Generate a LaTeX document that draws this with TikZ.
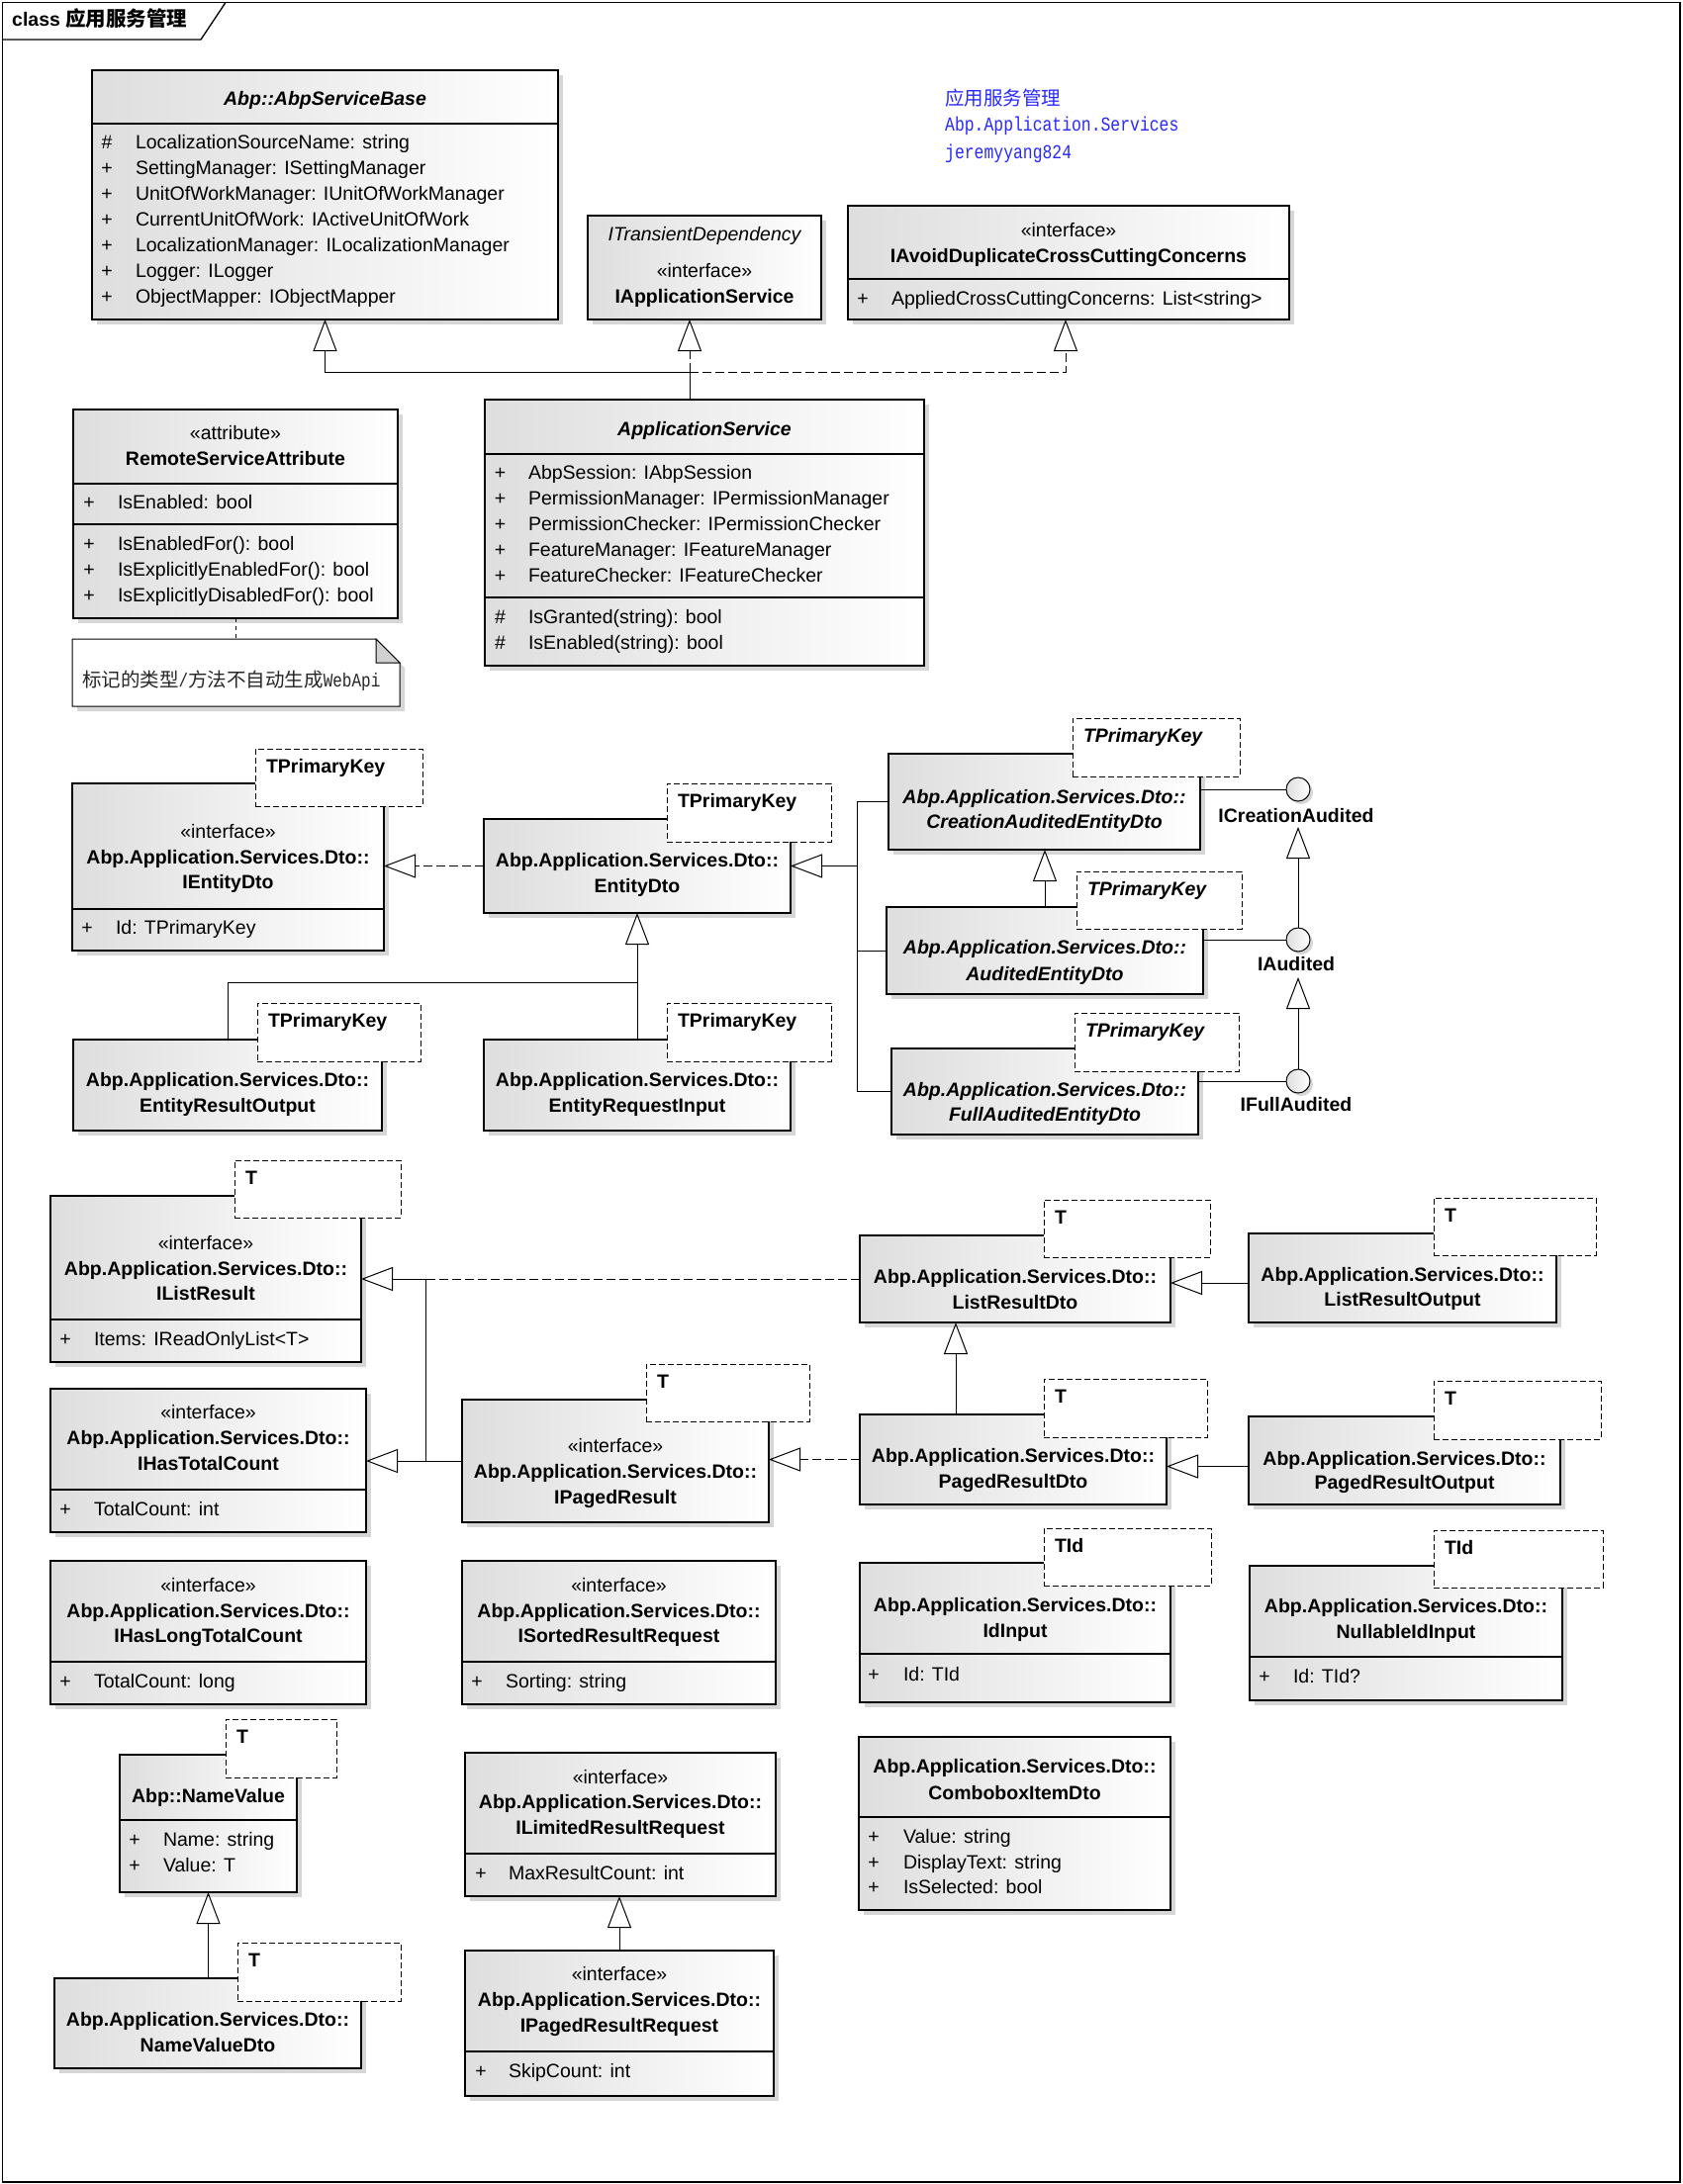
\documentclass[tikz,border=0pt]{standalone}
\usepackage{fontspec}
\setmainfont{Liberation Sans}
\newfontfamily\cjk{Noto Sans CJK SC}
\newfontfamily\nmono[FakeStretch=0.82]{Liberation Mono}
\usetikzlibrary{arrows.meta,shadows}
\definecolor{bluetxt}{RGB}{40,40,255}
\newcommand\dtons{Abp.Application.Services.Dto::}
\newcommand\umlbox[5]{\node[cls,minimum width=#4pt,minimum height=#5pt,anchor=north west] (#1) at (#2,#3) {};}
\newcommand\umltmpl[7]{\node[tmpl,minimum width=#4pt,minimum height=#5pt,anchor=north west] (#1) at (#2,#3) {};\node[#6,anchor=base west] (#1t) at ([shift={(11,24)}]#1.north west) {#7};}
\newcommand\umlsep[2]{\draw[line width=1.1pt] (#1.west |- 0,#2) -- (#1.east |- 0,#2);}
\newcommand\umltxt[5]{\node[#2,anchor=base] (#1) at (#3.north |- 0,#4) {#5};}
\newcommand\umlattr[6]{\node[txt,anchor=base] (#1s) at (#2,#4) {#5};\node[txt,anchor=base west] (#1t) at (#3,#4) {#6};}
\begin{document}
\begin{tikzpicture}[x=1pt,y=-1pt,
 cls/.style={draw=black,line width=1.1pt,left color=black!13,right color=white,inner sep=0pt,outer sep=0pt,drop shadow={shadow xshift=5pt,shadow yshift=-5pt,fill=black!16,opacity=1}},
 tmpl/.style={draw=black,line width=1pt,dash pattern=on 6pt off 3pt,fill=white,inner sep=0pt,outer sep=0pt},
 txt/.style={font=\fontsize{19.5}{23}\selectfont,inner sep=0pt,outer sep=0pt},
 bt/.style={txt,font=\fontsize{19.5}{23}\selectfont\bfseries},
 it/.style={txt,font=\fontsize{19.5}{23}\selectfont\itshape},
 bit/.style={txt,font=\fontsize{19.5}{23}\selectfont\bfseries\itshape},
 gen/.style={line width=1pt,-{Triangle[open,length=32pt,width=24pt]}},
 real/.style={gen,dash pattern=on 9pt off 4pt},
 dline/.style={line width=1pt,dash pattern=on 9pt off 4pt},
 lolli/.style={circle,minimum size=24pt,inner sep=0pt,outer sep=0pt,draw=black,line width=1pt,left color=black!13,right color=white,drop shadow={shadow xshift=3pt,shadow yshift=-3pt,fill=black!16,opacity=1}}
]
\useasboundingbox (0,0) rectangle (1700,2208);
\fill[white] (0,0) rectangle (1700,2208);
% frame
\draw[line width=1.3pt] (2.5,2.5) rectangle (1698,2206);
\draw[line width=1.3pt] (2.5,40) -- (203,40) -- (228,2.5);
\node[anchor=base west,inner sep=0pt] (ftitle) at (12,27) {\fontsize{19.5}{23}\selectfont\bfseries class {\cjk\fontsize{20.5}{23}\selectfont 应用服务管理}};
% blue notes
\node[anchor=base west,inner sep=0pt,text=bluetxt] (blue1) at (955,106) {\fontsize{19.5}{23}\selectfont\cjk 应用服务管理};
\node[anchor=base west,inner sep=0pt,text=bluetxt] (blue2) at (955,132) {\fontsize{20}{23}\selectfont\nmono Abp.Application.Services};
\node[anchor=base west,inner sep=0pt,text=bluetxt] (blue3) at (955,160) {\fontsize{20}{23}\selectfont\nmono jeremyyang824};

% ---------- AbpServiceBase
\umlbox{ASB}{93}{71}{471}{252}
\umlsep{ASB}{125}
\umltxt{ASBn}{bit}{ASB}{106}{Abp::AbpServiceBase}
\umlattr{ASB1}{108}{137}{150}{\#}{LocalizationSourceName: string}
\umlattr{ASB2}{108}{137}{176}{+}{SettingManager: ISettingManager}
\umlattr{ASB3}{108}{137}{202}{+}{UnitOfWorkManager: IUnitOfWorkManager}
\umlattr{ASB4}{108}{137}{228}{+}{CurrentUnitOfWork: IActiveUnitOfWork}
\umlattr{ASB5}{108}{137}{254}{+}{LocalizationManager: ILocalizationManager}
\umlattr{ASB6}{108}{137}{280}{+}{Logger: ILogger}
\umlattr{ASB7}{108}{137}{306}{+}{ObjectMapper: IObjectMapper}

% ---------- IApplicationService
\umlbox{IAS}{594}{218}{236}{105}
\umltxt{IASp}{it}{IAS}{243}{ITransientDependency}
\umltxt{IASs}{txt}{IAS}{280}{«interface»}
\umltxt{IASn}{bt}{IAS}{306}{IApplicationService}

% ---------- IAvoidDuplicateCrossCuttingConcerns
\umlbox{IAD}{857}{208}{446}{115}
\umlsep{IAD}{282}
\umltxt{IADs}{txt}{IAD}{239}{«interface»}
\umltxt{IADn}{bt}{IAD}{265}{IAvoidDuplicateCrossCuttingConcerns}
\umlattr{IAD1}{872}{901}{308}{+}{AppliedCrossCuttingConcerns: List<string>}

% ---------- RemoteServiceAttribute
\umlbox{RSA}{74}{414}{328}{211}
\umlsep{RSA}{489}
\umlsep{RSA}{530}
\umltxt{RSAs}{txt}{RSA}{444}{«attribute»}
\umltxt{RSAn}{bt}{RSA}{470}{RemoteServiceAttribute}
\umlattr{RSA1}{90}{119}{514}{+}{IsEnabled: bool}
\umlattr{RSA2}{90}{119}{556}{+}{IsEnabledFor(): bool}
\umlattr{RSA3}{90}{119}{582}{+}{IsExplicitlyEnabledFor(): bool}
\umlattr{RSA4}{90}{119}{608}{+}{IsExplicitlyDisabledFor(): bool}

% ---------- note
\node[inner sep=0pt,outer sep=0pt,minimum width=331pt,minimum height=68pt,anchor=north west] (note) at (73,646) {};
\fill[black!16] ([shift={(5,5)}]note.north west) -- ([shift={(-19,5)}]note.north east) -- ([shift={(5,29)}]note.north east) -- ([shift={(5,5)}]note.south east) -- ([shift={(5,5)}]note.south west) -- cycle;
\draw[line width=1pt,fill=white] (note.north west) -- ([shift={(-24,0)}]note.north east) -- ([shift={(0,24)}]note.north east) -- (note.south east) -- (note.south west) -- cycle;
\draw[line width=1pt,fill=black!18] ([shift={(-24,0)}]note.north east) -- ([shift={(-24,24)}]note.north east) -- ([shift={(0,24)}]note.north east) -- cycle;
\node[anchor=base west,inner sep=0pt,text=black!85] (notet) at (83,694) {\fontsize{19.5}{23}\selectfont\cjk 标记的类型{\nmono/}方法不自动生成{\nmono WebApi}};
\draw[line width=1pt,dash pattern=on 4pt off 4pt] (RSA.south) -- (RSA.south |- note.north);

% ---------- ApplicationService
\umlbox{AS}{490}{404}{444}{269}
\umlsep{AS}{459}
\umlsep{AS}{604}
\umltxt{ASn}{bit}{AS}{440}{ApplicationService}
\umlattr{AS1}{505.5}{534}{484}{+}{AbpSession: IAbpSession}
\umlattr{AS2}{505.5}{534}{510}{+}{PermissionManager: IPermissionManager}
\umlattr{AS3}{505.5}{534}{536}{+}{PermissionChecker: IPermissionChecker}
\umlattr{AS4}{505.5}{534}{562}{+}{FeatureManager: IFeatureManager}
\umlattr{AS5}{505.5}{534}{588}{+}{FeatureChecker: IFeatureChecker}
\umlattr{AS6}{505.5}{534}{630}{\#}{IsGranted(string): bool}
\umlattr{AS7}{505.5}{534}{656}{\#}{IsEnabled(string): bool}

% ---------- IEntityDto
\umlbox{IED}{73}{792}{315}{169}
\umlsep{IED}{919}
\umltmpl{IEDp}{258}{757}{169}{58}{bt}{TPrimaryKey}
\umltxt{IEDs}{txt}{IED}{847}{«interface»}
\umltxt{IEDa}{bt}{IED}{873}{\dtons}
\umltxt{IEDn}{bt}{IED}{898}{IEntityDto}
\umlattr{IED1}{88}{117}{944}{+}{Id: TPrimaryKey}

% ---------- EntityDto
\umlbox{ED}{489}{828}{310}{95}
\umltmpl{EDp}{674}{792}{166}{59}{bt}{TPrimaryKey}
\umltxt{EDa}{bt}{ED}{876}{\dtons}
\umltxt{EDn}{bt}{ED}{902}{EntityDto}

% ---------- EntityResultOutput
\umlbox{ERO}{74}{1051}{312}{92}
\umltmpl{EROp}{260}{1014}{165}{59}{bt}{TPrimaryKey}
\umltxt{EROa}{bt}{ERO}{1098}{\dtons}
\umltxt{EROn}{bt}{ERO}{1124}{EntityResultOutput}

% ---------- EntityRequestInput
\umlbox{ERI}{489}{1051}{310}{92}
\umltmpl{ERIp}{674}{1014}{166}{59}{bt}{TPrimaryKey}
\umltxt{ERIa}{bt}{ERI}{1098}{\dtons}
\umltxt{ERIn}{bt}{ERI}{1124}{EntityRequestInput}

% ---------- CreationAuditedEntityDto
\umlbox{CAED}{898}{762}{315}{97}
\umltmpl{CAEDp}{1084}{726}{169}{59}{bit}{TPrimaryKey}
\umltxt{CAEDa}{bit}{CAED}{812}{\dtons}
\umltxt{CAEDn}{bit}{CAED}{837}{CreationAuditedEntityDto}

% ---------- AuditedEntityDto
\umlbox{AED}{896}{917}{320}{88}
\umltmpl{AEDp}{1088}{881}{167}{58}{bit}{TPrimaryKey}
\umltxt{AEDa}{bit}{AED}{964}{\dtons}
\umltxt{AEDn}{bit}{AED}{991}{AuditedEntityDto}

% ---------- FullAuditedEntityDto
\umlbox{FAED}{901}{1060}{310}{87}
\umltmpl{FAEDp}{1086}{1024}{166}{59}{bit}{TPrimaryKey}
\umltxt{FAEDa}{bit}{FAED}{1108}{\dtons}
\umltxt{FAEDn}{bit}{FAED}{1133}{FullAuditedEntityDto}

% ---------- lollipops
\node[lolli] (ICA) at (1312,798) {};
\node[lolli] (IA) at (1312,950) {};
\node[lolli] (IFA) at (1312,1093) {};
\node[bt,anchor=base] (ICAl) at (1310,831) {ICreationAudited};
\node[bt,anchor=base] (IAl) at (1310,981) {IAudited};
\node[bt,anchor=base] (IFAl) at (1310,1123) {IFullAudited};

% ---------- IListResult
\umlbox{ILR}{51}{1209}{314}{168}
\umlsep{ILR}{1334}
\umltmpl{ILRp}{237}{1173}{168}{58}{bt}{T}
\umltxt{ILRs}{txt}{ILR}{1263}{«interface»}
\umltxt{ILRa}{bt}{ILR}{1289}{\dtons}
\umltxt{ILRn}{bt}{ILR}{1314}{IListResult}
\umlattr{ILR1}{66}{95}{1360}{+}{Items: IReadOnlyList<T>}

% ---------- IHasTotalCount
\umlbox{IHTC}{51}{1404}{319}{145}
\umlsep{IHTC}{1506}
\umltxt{IHTCs}{txt}{IHTC}{1434}{«interface»}
\umltxt{IHTCa}{bt}{IHTC}{1460}{\dtons}
\umltxt{IHTCn}{bt}{IHTC}{1486}{IHasTotalCount}
\umlattr{IHTC1}{66}{95}{1532}{+}{TotalCount: int}

% ---------- IPagedResult
\umlbox{IPR}{467}{1415}{310}{124}
\umltmpl{IPRp}{653}{1379}{165}{58}{bt}{T}
\umltxt{IPRs}{txt}{IPR}{1468}{«interface»}
\umltxt{IPRa}{bt}{IPR}{1494}{\dtons}
\umltxt{IPRn}{bt}{IPR}{1520}{IPagedResult}

% ---------- ListResultDto
\umlbox{LRD}{869}{1249}{314}{88}
\umltmpl{LRDp}{1055}{1213}{168}{58}{bt}{T}
\umltxt{LRDa}{bt}{LRD}{1297}{\dtons}
\umltxt{LRDn}{bt}{LRD}{1323}{ListResultDto}

% ---------- ListResultOutput
\umlbox{LRO}{1262}{1247}{311}{90}
\umltmpl{LROp}{1449}{1211}{164}{58}{bt}{T}
\umltxt{LROa}{bt}{LRO}{1295}{\dtons}
\umltxt{LROn}{bt}{LRO}{1320}{ListResultOutput}

% ---------- PagedResultDto
\umlbox{PRD}{869}{1430}{310}{91}
\umltmpl{PRDp}{1055}{1394}{165}{59}{bt}{T}
\umltxt{PRDa}{bt}{PRD}{1478}{\dtons}
\umltxt{PRDn}{bt}{PRD}{1504}{PagedResultDto}

% ---------- PagedResultOutput
\umlbox{PRO}{1262}{1432}{315}{89}
\umltmpl{PROp}{1449}{1396}{169}{59}{bt}{T}
\umltxt{PROa}{bt}{PRO}{1481}{\dtons}
\umltxt{PROn}{bt}{PRO}{1505}{PagedResultOutput}

% ---------- IHasLongTotalCount
\umlbox{IHLTC}{51}{1578}{319}{145}
\umlsep{IHLTC}{1680}
\umltxt{IHLTCs}{txt}{IHLTC}{1609}{«interface»}
\umltxt{IHLTCa}{bt}{IHLTC}{1635}{\dtons}
\umltxt{IHLTCn}{bt}{IHLTC}{1660}{IHasLongTotalCount}
\umlattr{IHLTC1}{66}{95}{1706}{+}{TotalCount: long}

% ---------- ISortedResultRequest
\umlbox{ISRR}{467}{1578}{317}{145}
\umlsep{ISRR}{1680}
\umltxt{ISRRs}{txt}{ISRR}{1609}{«interface»}
\umltxt{ISRRa}{bt}{ISRR}{1635}{\dtons}
\umltxt{ISRRn}{bt}{ISRR}{1660}{ISortedResultRequest}
\umlattr{ISRR1}{482}{511}{1706}{+}{Sorting: string}

% ---------- IdInput
\umlbox{IDI}{869}{1580}{314}{141}
\umlsep{IDI}{1672}
\umltmpl{IDIp}{1055}{1545}{169}{58}{bt}{TId}
\umltxt{IDIa}{bt}{IDI}{1629}{\dtons}
\umltxt{IDIn}{bt}{IDI}{1655}{IdInput}
\umlattr{IDI1}{883}{913}{1699}{+}{Id: TId}

% ---------- NullableIdInput
\umlbox{NIDI}{1263}{1583}{316}{136}
\umlsep{NIDI}{1675}
\umltmpl{NIDIp}{1449}{1547}{171}{58}{bt}{TId}
\umltxt{NIDIa}{bt}{NIDI}{1630}{\dtons}
\umltxt{NIDIn}{bt}{NIDI}{1656}{NullableIdInput}
\umlattr{NIDI1}{1278}{1307}{1701}{+}{Id: TId?}

% ---------- ComboboxItemDto
\umlbox{CID}{868}{1756}{315}{175}
\umlsep{CID}{1837}
\umltxt{CIDa}{bt}{CID}{1792}{\dtons}
\umltxt{CIDn}{bt}{CID}{1819}{ComboboxItemDto}
\umlattr{CID1}{883}{913}{1863}{+}{Value: string}
\umlattr{CID2}{883}{913}{1889}{+}{DisplayText: string}
\umlattr{CID3}{883}{913}{1914}{+}{IsSelected: bool}

% ---------- NameValue
\umlbox{NV}{121}{1774}{179}{139}
\umlsep{NV}{1840}
\umltmpl{NVp}{228}{1738}{112}{59}{bt}{T}
\umltxt{NVn}{bt}{NV}{1822}{Abp::NameValue}
\umlattr{NV1}{136}{165}{1866}{+}{Name: string}
\umlattr{NV2}{136}{165}{1892}{+}{Value: T}

% ---------- NameValueDto
\umlbox{NVD}{55}{2000}{310}{91}
\umltmpl{NVDp}{240}{1964}{165}{59}{bt}{T}
\umltxt{NVDa}{bt}{NVD}{2048}{\dtons}
\umltxt{NVDn}{bt}{NVD}{2074}{NameValueDto}

% ---------- ILimitedResultRequest
\umlbox{ILRR}{470}{1772}{314}{145}
\umlsep{ILRR}{1874}
\umltxt{ILRRs}{txt}{ILRR}{1803}{«interface»}
\umltxt{ILRRa}{bt}{ILRR}{1828}{\dtons}
\umltxt{ILRRn}{bt}{ILRR}{1854}{ILimitedResultRequest}
\umlattr{ILRR1}{486}{514}{1900}{+}{MaxResultCount: int}

% ---------- IPagedResultRequest
\umlbox{IPRR}{470}{1972}{312}{147}
\umlsep{IPRR}{2074}
\umltxt{IPRRs}{txt}{IPRR}{2002}{«interface»}
\umltxt{IPRRa}{bt}{IPRR}{2028}{\dtons}
\umltxt{IPRRn}{bt}{IPRR}{2054}{IPagedResultRequest}
\umlattr{IPRR1}{486}{514}{2100}{+}{SkipCount: int}

% ================= connectors
\coordinate (jA) at (697,376);
\draw[gen] (AS.north -| jA) -- (jA) -| (ASB.south);
\draw[real] (jA) -- (IAS.south -| jA);
\draw[real] (jA) -| ([xshift=-3pt]IAD.south);

\draw[real] (ED.west) -- (ED.west -| IED.east);

\coordinate (jB) at (644,993);
\draw[gen] (ERO.north) |- (jB) -- (ED.south);
\draw[line width=1pt] (ERI.north) -- (jB);

\coordinate (jT) at (866,875.5);
\draw[gen] (CAED.west) -| (jT) -- (ED.east);
\draw[line width=1pt] (AED.west) -| (jT);
\draw[line width=1pt] (FAED.west) -| (jT);

\draw[gen] (AED.north) -- (AED.north |- CAED.south);

\draw[line width=1pt] (CAED.east |- ICA) -- (ICA.west);
\draw[line width=1pt] (AED.east |- IA) -- (IA.west);
\draw[line width=1pt] (FAED.east |- IFA) -- (IFA.west);
\coordinate (ICAtip) at (1312,836);
\coordinate (IAtip) at (1312,988);
\draw[gen] (IA.north) -- (ICAtip);
\draw[gen] (IFA.north) -- (IAtip);

\coordinate (jL) at (430,1477);
\draw[gen] (IPR.west) -- (IPR.west -| IHTC.east);
\draw[gen] (jL) |- (ILR.east);
\draw[dline] (LRD.west) -- (LRD.west -| jL);
\draw[real] (PRD.west) -- (PRD.west -| IPR.east);

\draw[gen] ([yshift=-5pt]LRO.west) -- ([yshift=-5pt]LRO.west -| LRD.east);
\draw[gen] ([yshift=-6pt]PRO.west) -- ([yshift=-6pt]PRO.west -| PRD.east);
\draw[gen] ([xshift=-58pt]PRD.north) -- ([xshift=-58pt]PRD.north |- LRD.south);

\draw[gen] (NVD.north -| NV.south) -- (NV.south);
\draw[gen] (IPRR.north) -- (IPRR.north |- ILRR.south);
\end{tikzpicture}
\end{document}
